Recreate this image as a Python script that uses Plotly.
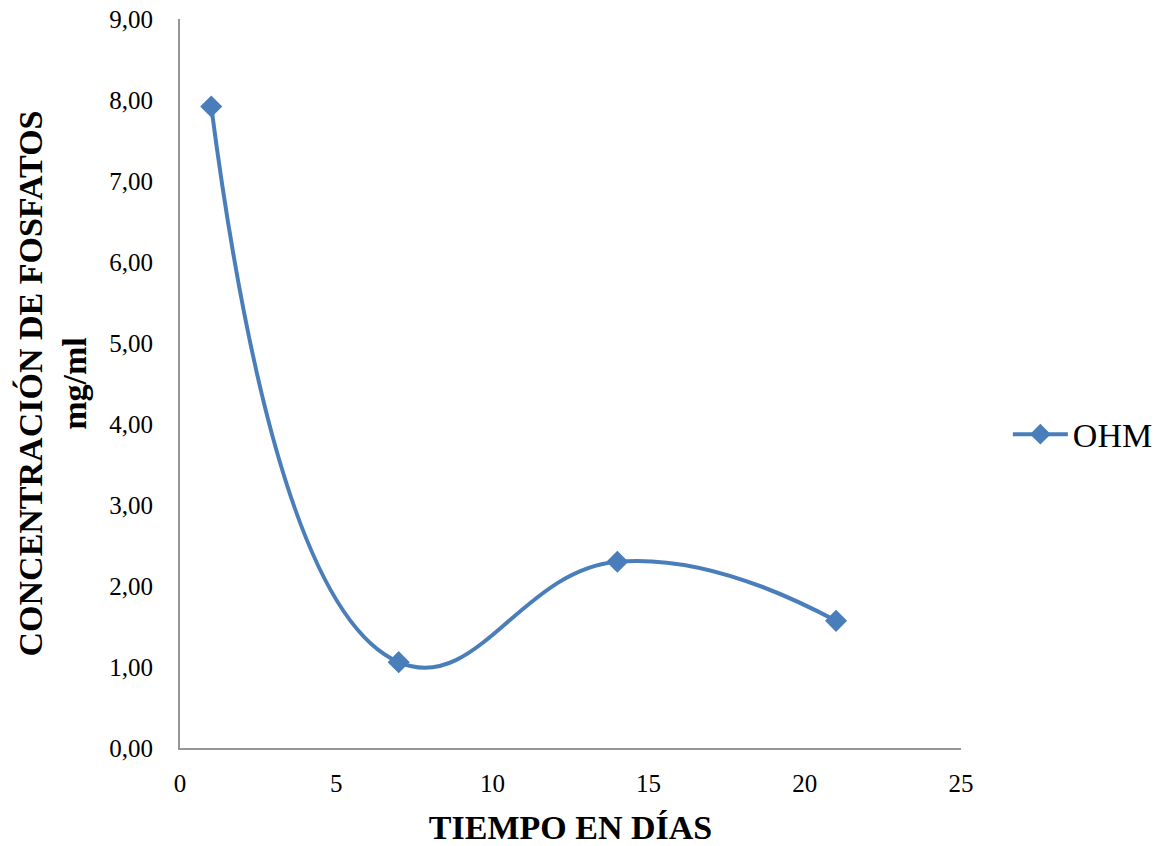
import plotly.graph_objects as go

dias = [1, 7, 14, 21]
ohm = [7.92, 1.06, 2.30, 1.57]
serie = "OHM"

color = "#4A7EBB"
fig = go.Figure()
fig.add_trace(go.Scatter(
    x=dias, y=ohm, name=serie, mode="lines+markers",
    line=dict(color=color, width=4, shape="spline", smoothing=1.3),
    marker=dict(symbol="diamond", size=17, color=color),
))

font_family = "Liberation Serif, DejaVu Serif, serif"
fig.update_layout(
    width=1161, height=838,
    paper_bgcolor="white", plot_bgcolor="white",
    margin=dict(l=172, r=206, t=11, b=98),
    separators=",.",
    font=dict(family=font_family, color="black", size=25),
    showlegend=True,
    legend=dict(x=1.060, y=0.43, xanchor="left", yanchor="middle", itemwidth=55,
                font=dict(size=34, family=font_family)),
    xaxis=dict(range=[0, 25], dtick=5, showgrid=False, zeroline=False,
               showline=True, linecolor="#969696", linewidth=2, automargin=False,
               ticks="", tickfont=dict(size=25), ticklabelstandoff=12,
               ticklabeloverflow="allow",
               title=dict(text="<b>TIEMPO EN DÍAS</b>", font=dict(size=34), standoff=22)),
    yaxis=dict(range=[0, 9], dtick=1, tickformat=".2f", showgrid=False, zeroline=False,
               showline=True, linecolor="#969696", linewidth=2, automargin=False,
               ticks="", tickfont=dict(size=25), ticklabelstandoff=20,
               ticklabeloverflow="allow",
               title=dict(text="<b>CONCENTRACIÓN DE FOSFATOS<br>mg/ml</b>", font=dict(size=34), standoff=12)),
)
fig.write_html("out.html")
